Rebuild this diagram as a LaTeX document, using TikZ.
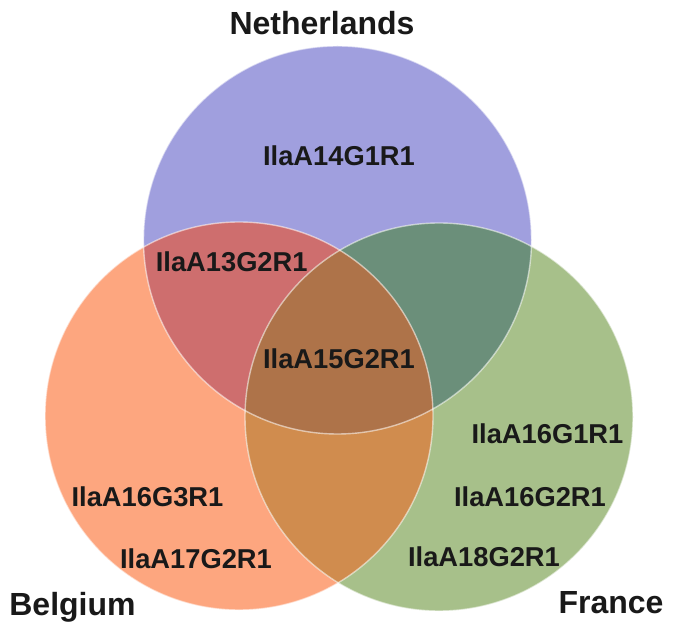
\documentclass[tikz,border=0pt]{standalone}
\usepackage{fontspec}
\setmainfont{Liberation Sans}
\definecolor{cN}{RGB}{160,159,222}
\definecolor{cB}{RGB}{253,166,127}
\definecolor{cF}{RGB}{167,192,138}
\definecolor{cNB}{RGB}{206,110,110}
\definecolor{cNF}{RGB}{107,143,122}
\definecolor{cBF}{RGB}{208,140,78}
\definecolor{cNBF}{RGB}{174,115,73}
\begin{document}
\begin{tikzpicture}[x=1pt,y=1pt,
  lbl/.style={anchor=base,inner sep=0pt,font=\fontsize{27.3}{30}\selectfont\bfseries,text=black!90},
  ttl/.style={anchor=base,inner sep=0pt,font=\fontsize{32}{36}\selectfont\bfseries,text=black!90},
  rim/.style={draw=white,draw opacity=0.55,line width=1.4pt}]
\useasboundingbox (0,0) rectangle (679,629);
\fill[white] (0,0) rectangle (679,629);
\coordinate (N) at (337.5,389);
\coordinate (B) at (239,213);
\coordinate (F) at (439,212);
\def\R{194}
\fill[cN] (N) circle (\R);
\fill[cB] (B) circle (\R);
\fill[cF] (F) circle (\R);
\begin{scope}
  \clip (N) circle (\R);
  \fill[cNB] (B) circle (\R);
  \fill[cNF] (F) circle (\R);
\end{scope}
\begin{scope}
  \clip (B) circle (\R);
  \fill[cBF] (F) circle (\R);
  \clip (F) circle (\R);
  \fill[cNBF] (N) circle (\R);
\end{scope}
\draw[rim] (N) circle (\R);
\draw[rim] (B) circle (\R);
\draw[rim] (F) circle (\R);
\node[ttl] (tN) at (322,594) {Netherlands};
\node[ttl] (tB) at (72.5,14) {Belgium};
\node[ttl] (tF) at (611,15.7) {France};
\node[lbl] (a14) at (339,463.5) {IlaA14G1R1};
\node[lbl] (a13) at (231.7,357.3) {IlaA13G2R1};
\node[lbl] (a15) at (339,260.7) {IlaA15G2R1};
\node[lbl] (a163) at (147.5,122.3) {IlaA16G3R1};
\node[lbl] (a17) at (196,60.7) {IlaA17G2R1};
\node[lbl] (a161) at (547.5,185.7) {IlaA16G1R1};
\node[lbl] (a162) at (530,122.3) {IlaA16G2R1};
\node[lbl] (a18) at (484,62.3) {IlaA18G2R1};
\end{tikzpicture}
\end{document}
